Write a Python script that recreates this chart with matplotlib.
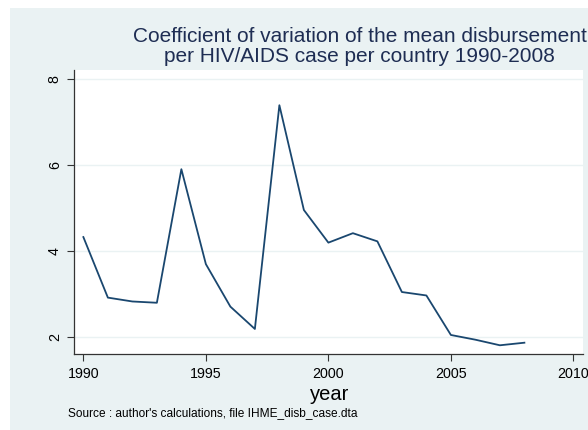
import matplotlib
matplotlib.use("Agg")
import matplotlib.pyplot as plt
from matplotlib.patches import Rectangle

# annees et coefficient de variation
annees = [1990, 1991, 1992, 1993, 1994, 1995, 1996, 1997, 1998, 1999,
          2000, 2001, 2002, 2003, 2004, 2005, 2006, 2007, 2008]
cv = [4.33, 2.92, 2.83, 2.80, 5.91, 3.70, 2.71, 2.19, 7.40, 4.96,
      4.20, 4.42, 4.23, 3.05, 2.97, 2.05, 1.94, 1.81, 1.87]

xticks = [1990, 1995, 2000, 2005, 2010]
yticks = [2, 4, 6, 8]

plt.rcParams['font.family'] = ['Liberation Sans', 'DejaVu Sans']

fig = plt.figure(figsize=(5.88, 4.30), dpi=100)
fig.patch.set_facecolor('white')
# fond du graphique façon Stata (s2color)
fig.patches.append(Rectangle((10 / 588, 0), 1, 1 - 8 / 430, transform=fig.transFigure,
                             facecolor='#EAF2F3', edgecolor='none', zorder=-10))

ax = fig.add_axes([74.3 / 588, 1 - 354.3 / 430, (582.7 - 74.3) / 588, (354.3 - 70) / 430])
ax.set_facecolor('white')

ax.plot(annees, cv, color='#1A476F', linewidth=1.3)

ax.set_xlim(1989.63, 2010.38)
ax.set_ylim(1.60, 8.22)
ax.set_xticks(xticks)
ax.set_yticks(yticks)
ax.tick_params(axis='x', labelsize=10.3, length=5, width=0.8, color='#333333', pad=4)
ax.tick_params(axis='y', labelsize=10.3, length=5, width=0.8, color='#333333', pad=4,
               labelrotation=90)
for lab in ax.get_yticklabels():
    lab.set_va('center')

ax.grid(axis='y', color='#EAF2F3', linewidth=1.0)
ax.set_axisbelow(True)
for s in ['top', 'right']:
    ax.spines[s].set_visible(False)
for s in ['left', 'bottom']:
    ax.spines[s].set_color('#333333')
    ax.spines[s].set_linewidth(0.9)

# titre et légendes
fig.text(359.5 / 588, 1 - 36 / 430, 'Coefficient of variation of the mean disbursement',
         ha='center', va='center', fontsize=15, color='#1E2D53')
fig.text(359.5 / 588, 1 - 56 / 430, 'per HIV/AIDS case per country 1990-2008',
         ha='center', va='center', fontsize=15, color='#1E2D53')
fig.text(330 / 588, 1 - 394 / 430, 'year', ha='center', va='center', fontsize=14.5, color='black')
fig.text(68 / 588, 1 - 413 / 430, "Source : author's calculations, file IHME_disb_case.dta",
         ha='left', va='center', fontsize=8.6, color='black')

fig.savefig('out.png', dpi=100, facecolor=fig.get_facecolor())
